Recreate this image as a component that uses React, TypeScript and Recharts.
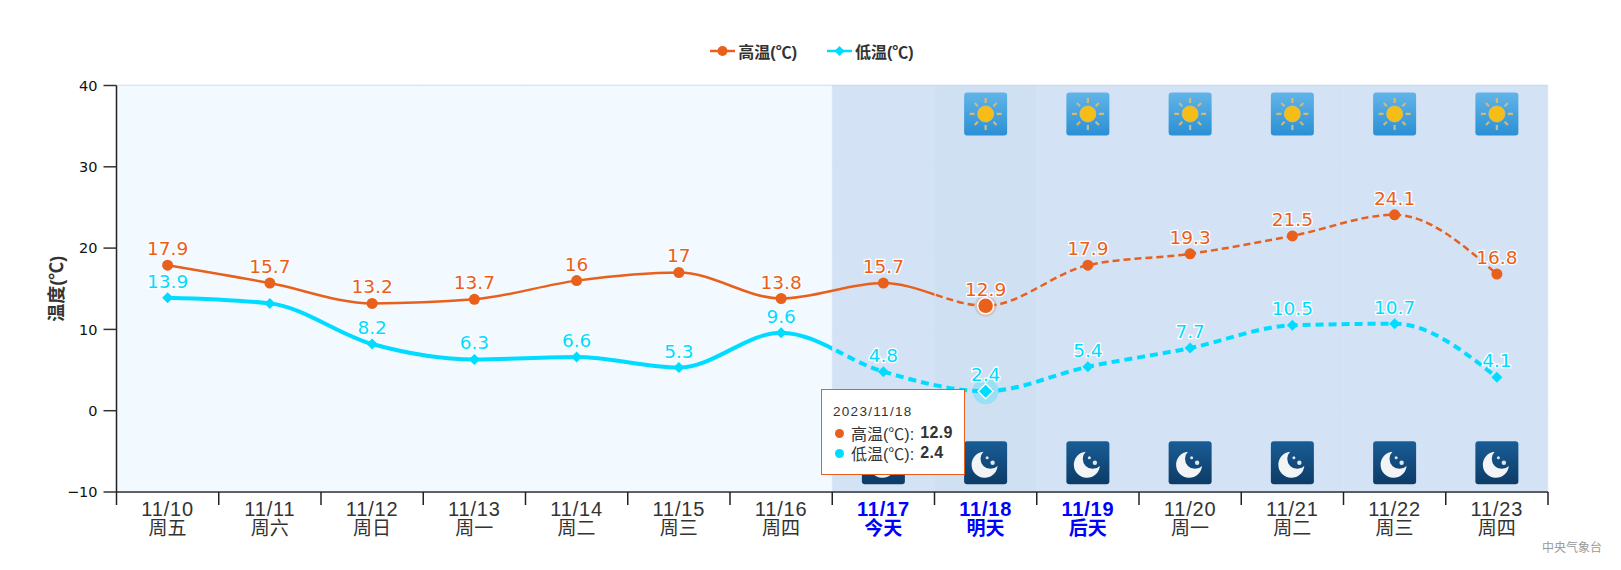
import React from 'react';
import { ComposedChart, Bar, Cell, Line, XAxis, YAxis, CartesianGrid, Tooltip, Legend, LabelList } from 'recharts';

const dates = ['11/10', '11/11', '11/12', '11/13', '11/14', '11/15', '11/16', '11/17', '11/18', '11/19', '11/20', '11/21', '11/22', '11/23'];
const weekdays = ['周五', '周六', '周日', '周一', '周二', '周三', '周四', '今天', '明天', '后天', '周一', '周二', '周三', '周四'];
const highTemps = [17.9, 15.7, 13.2, 13.7, 16, 17, 13.8, 15.7, 12.9, 17.9, 19.3, 21.5, 24.1, 16.8];
const lowTemps = [13.9, 13.2, 8.2, 6.3, 6.6, 5.3, 9.6, 4.8, 2.4, 5.4, 7.7, 10.5, 10.7, 4.1];
const sunFlags = [null, null, null, null, null, null, null, null, 36.5, 36.5, 36.5, 36.5, 36.5, 36.5];
const moonFlags = [null, null, null, null, null, null, null, -6.4, -6.4, -6.4, -6.4, -6.4, -6.4, -6.4];
const yTicks = [-10, 0, 10, 20, 30, 40];
const yDomain = [-10, 40];

const CHART_W = 1621;
const CHART_H = 570;
const LEFT = 116.5;
const RIGHT = 1548;
const TOP = 85.5;
const BOTTOM = 492;
const BAND = (RIGHT - LEFT) / dates.length;
const TODAY = 7;
const ACTIVE = 8;
const ORANGE = '#e8601c';
const CYAN = '#00dcff';
const FONT = '"Liberation Sans", "Noto Sans CJK SC", sans-serif';
const LABEL_FONT = '"DejaVu Sans", sans-serif';

const data = dates.map((date, i) => ({
  date,
  week: weekdays[i],
  band: yDomain,
  high: highTemps[i],
  low: lowTemps[i],
  sun: sunFlags[i],
  moon: moonFlags[i],
}));

const clipCss = `
.clip-high-solid { clip-path: url(#highSolid); }
.clip-high-dash { clip-path: url(#highDash); }
.clip-low-solid { clip-path: url(#lowSolid); }
.clip-low-dash { clip-path: url(#lowDash); }
`;

const SunIcon = ({ cx, cy, index }: any) => {
  if (cy == null || sunFlags[index] == null) return <g key={index} />;
  const rays = [0, 45, 90, 135, 180, 225, 270, 315];
  return (
    <g key={index} transform={`translate(${cx},${cy})`}>
      <rect x={-21.5} y={-21.5} width={43} height={43} rx={3} fill="url(#sunBg)" />
      {rays.map((a) => (
        <line key={a} x1={0} y1={-11} x2={0} y2={a % 90 === 0 ? -16 : -15.5} stroke="#cdbb7c" strokeWidth={2.2} transform={`rotate(${a})`} />
      ))}
      <circle r={8} fill="#f7bd17" stroke="#d9c070" strokeWidth={0.8} />
    </g>
  );
};

const MoonIcon = ({ cx, cy, index }: any) => {
  if (cy == null || moonFlags[index] == null) return <g key={index} />;
  return (
    <g key={index} transform={`translate(${cx},${cy})`}>
      <rect x={-21.5} y={-21.5} width={43} height={43} rx={3} fill="url(#moonBg)" />
      <path d="M -2.2 -10.95 A 13 13 0 1 0 11.95 3.2 A 10 10 0 0 1 -2.2 -10.95 Z" fill="#f2f4f6" />
      <circle cx={1.5} cy={-5} r={1.5} fill="#dfe6ee" />
      <circle cx={7} cy={0} r={2.2} fill="#dfe6ee" />
    </g>
  );
};

const HighDot = ({ cx, cy, index }: any) => {
  if (index === ACTIVE) {
    return (
      <g key={index}>
        <circle cx={cx} cy={cy} r={11} fill={ORANGE} opacity={0.22} />
        <circle cx={cx} cy={cy} r={8} fill={ORANGE} stroke="#fff" strokeWidth={1.5} />
      </g>
    );
  }
  return <circle key={index} cx={cx} cy={cy} r={5.5} fill={ORANGE} />;
};

const LowDot = ({ cx, cy, index }: any) => {
  if (index === ACTIVE) {
    return (
      <g key={index}>
        <circle cx={cx} cy={cy} r={13} fill={CYAN} opacity={0.25} />
        <path d={`M ${cx} ${cy - 7.5} L ${cx + 7.5} ${cy} L ${cx} ${cy + 7.5} L ${cx - 7.5} ${cy} Z`} fill={CYAN} stroke="#fff" strokeWidth={1.5} />
      </g>
    );
  }
  return <path key={index} d={`M ${cx} ${cy - 5.5} L ${cx + 5.5} ${cy} L ${cx} ${cy + 5.5} L ${cx - 5.5} ${cy} Z`} fill={CYAN} />;
};

const valueLabel = (color: string, skip: number[]) => ({ x, y, value, index }: any) => {
  if (skip.includes(index)) return null;
  return (
    <text
      key={index}
      x={x}
      y={y - 10}
      textAnchor="middle"
      fontFamily={LABEL_FONT}
      fontSize={18.5}
      fill={color}
      stroke="#fff"
      strokeWidth={2.5}
      paintOrder="stroke"
    >
      {value}
    </text>
  );
};

const DateTick = ({ x, y, payload, index }: any) => {
  const highlight = index >= TODAY && index <= TODAY + 2;
  const color = highlight ? '#0000ff' : '#333';
  const weight = highlight ? 700 : 400;
  return (
    <g>
      <line x1={x - BAND / 2} y1={BOTTOM} x2={x - BAND / 2} y2={BOTTOM + 13} stroke="#222" strokeWidth={1.5} />
      {index === dates.length - 1 && <line x1={x + BAND / 2} y1={BOTTOM} x2={x + BAND / 2} y2={BOTTOM + 13} stroke="#222" strokeWidth={1.5} />}
      <text x={x} y={BOTTOM + 24} textAnchor="middle" fontFamily={FONT} fontSize={20} letterSpacing={0.8} fontWeight={weight} fill={color}>{payload.value}</text>
      <text x={x} y={BOTTOM + 43} textAnchor="middle" fontFamily={FONT} fontSize={19} fontWeight={weight} fill={color}>{weekdays[index]}</text>
    </g>
  );
};

const LegendContent = () => (
  <div style={{ display: 'flex', justifyContent: 'center', gap: 30, fontFamily: FONT, fontSize: 16, fontWeight: 700, color: '#333' }}>
    <span style={{ display: 'flex', alignItems: 'center', gap: 3 }}>
      <svg width={25} height={14}>
        <line x1={0} y1={7} x2={25} y2={7} stroke={ORANGE} strokeWidth={2.5} />
        <circle cx={12.5} cy={7} r={5} fill={ORANGE} />
      </svg>
      高温(℃)
    </span>
    <span style={{ display: 'flex', alignItems: 'center', gap: 3 }}>
      <svg width={25} height={14}>
        <line x1={0} y1={7} x2={25} y2={7} stroke={CYAN} strokeWidth={2.5} />
        <path d="M 12.5 2 L 17.5 7 L 12.5 12 L 7.5 7 Z" fill={CYAN} />
      </svg>
      低温(℃)
    </span>
  </div>
);

const TipContent = () => (
  <div style={{ width: 142, height: 84, background: '#fff', border: `1px solid ${ORANGE}`, fontFamily: FONT, color: '#333', position: 'relative' }}>
    <div style={{ position: 'absolute', left: 11, top: 14, fontSize: 13.5, letterSpacing: 1.3 }}>2023/{dates[ACTIVE]}</div>
    {[{ name: '高温(℃)', color: ORANGE, value: highTemps[ACTIVE], top: 31 }, { name: '低温(℃)', color: CYAN, value: lowTemps[ACTIVE], top: 51 }].map((row) => (
      <div key={row.name} style={{ position: 'absolute', left: 13, top: row.top, display: 'flex', alignItems: 'center', fontSize: 16, whiteSpace: 'nowrap' }}>
        <span style={{ width: 9, height: 9, borderRadius: 5, background: row.color, marginRight: 7 }} />
        {row.name}: <b style={{ marginLeft: 6, letterSpacing: 0.4 }}>{row.value}</b>
      </div>
    ))}
  </div>
);

const App: React.FC = () => {
  return (
    <div style={{ position: 'absolute', left: 0, top: 0, width: CHART_W, height: CHART_H, background: '#fff' }}>
      <style>{clipCss}</style>
      <ComposedChart
        width={CHART_W}
        height={CHART_H}
        data={data}
        barCategoryGap={0}
        margin={{ top: TOP, right: CHART_W - RIGHT, left: 0, bottom: CHART_H - BOTTOM - 60 }}
      >
        <defs>
          <linearGradient id="sunBg" x1="0" y1="0" x2="0" y2="1">
            <stop offset="0%" stopColor="#62b4e8" />
            <stop offset="100%" stopColor="#2a90d4" />
          </linearGradient>
          <linearGradient id="moonBg" x1="0" y1="0" x2="0" y2="1">
            <stop offset="0%" stopColor="#185d96" />
            <stop offset="100%" stopColor="#0d3b66" />
          </linearGradient>
          <clipPath id="highSolid"><rect x={0} y={0} width={LEFT + BAND * ACTIVE} height={CHART_H} /></clipPath>
          <clipPath id="highDash"><rect x={LEFT + BAND * ACTIVE} y={0} width={CHART_W} height={CHART_H} /></clipPath>
          <clipPath id="lowSolid"><rect x={0} y={0} width={LEFT + BAND * TODAY} height={CHART_H} /></clipPath>
          <clipPath id="lowDash"><rect x={LEFT + BAND * TODAY} y={0} width={CHART_W} height={CHART_H} /></clipPath>
        </defs>
        <XAxis
          dataKey="date"
          height={60}
          interval={0}
          axisLine={{ stroke: '#333', strokeWidth: 1.5 }}
          tickLine={false}
          tick={<DateTick />}
        />
        <YAxis
          width={LEFT}
          domain={yDomain}
          ticks={yTicks}
          interval={0}
          allowDataOverflow
          axisLine={{ stroke: '#222', strokeWidth: 1.5 }}
          tickLine={{ stroke: '#333', strokeWidth: 1.5 }}
          tickSize={13}
          tickMargin={6}
          tickFormatter={(v: number) => (v < 0 ? `\u2212${-v}` : `${v}`)}
          tick={{ fill: '#111', fontSize: 14.5, fontFamily: LABEL_FONT }}
          label={{ value: '温度(℃)', angle: -90, position: 'insideLeft', offset: 57, style: { fontFamily: FONT, fontSize: 18, fontWeight: 700, fill: '#333', textAnchor: 'middle' } }}
        />
        <Bar dataKey="band" isAnimationActive={false} legendType="none">
          {data.map((_, i) => {
            const fill = i < TODAY ? '#f2f9ff' : i === ACTIVE ? '#cfe0f3' : '#d3e3f5';
            return <Cell key={i} fill={fill} stroke={fill} strokeWidth={0.6} />;
          })}
        </Bar>
        <CartesianGrid vertical={false} stroke="#c5d6e6" strokeWidth={1.5} />
        <Line dataKey="sun" stroke="none" connectNulls={false} dot={<SunIcon />} activeDot={false} isAnimationActive={false} legendType="none" />
        <Line dataKey="moon" stroke="none" connectNulls={false} dot={<MoonIcon />} activeDot={false} isAnimationActive={false} legendType="none" />
        <Line className="clip-high-dash" type="monotone" dataKey="high" stroke={ORANGE} strokeWidth={2.5} strokeDasharray="7 4" dot={false} activeDot={false} isAnimationActive={false} legendType="none" />
        <Line className="clip-low-dash" type="monotone" dataKey="low" stroke={CYAN} strokeWidth={4} strokeDasharray="8 5" dot={false} activeDot={false} isAnimationActive={false} legendType="none" />
        <Line className="clip-high-solid" type="monotone" dataKey="high" stroke={ORANGE} strokeWidth={2.5} dot={false} activeDot={false} isAnimationActive={false} />
        <Line className="clip-low-solid" type="monotone" dataKey="low" stroke={CYAN} strokeWidth={4} dot={false} activeDot={false} isAnimationActive={false} />
        <Line type="monotone" dataKey="high" stroke="none" dot={<HighDot />} activeDot={false} isAnimationActive={false} legendType="none">
          <LabelList dataKey="high" content={valueLabel(ORANGE, [])} />
        </Line>
        <Line type="monotone" dataKey="low" stroke="none" dot={<LowDot />} activeDot={false} isAnimationActive={false} legendType="none">
          <LabelList dataKey="low" content={valueLabel(CYAN, [1])} />
        </Line>
        <Legend verticalAlign="middle" content={<LegendContent />} wrapperStyle={{ top: 39, left: 0, width: CHART_W + 3, height: 20 }} />
        <Tooltip
          active
          defaultIndex={ACTIVE}
          content={<TipContent />}
          cursor={false}
          position={{ x: 821, y: 389 }}
          isAnimationActive={false}
          wrapperStyle={{ zIndex: 10 }}
        />
        <text x={1542} y={552} fontFamily={FONT} fontSize={12} fill="#999">中央气象台</text>
      </ComposedChart>
    </div>
  );
};

export default App;
